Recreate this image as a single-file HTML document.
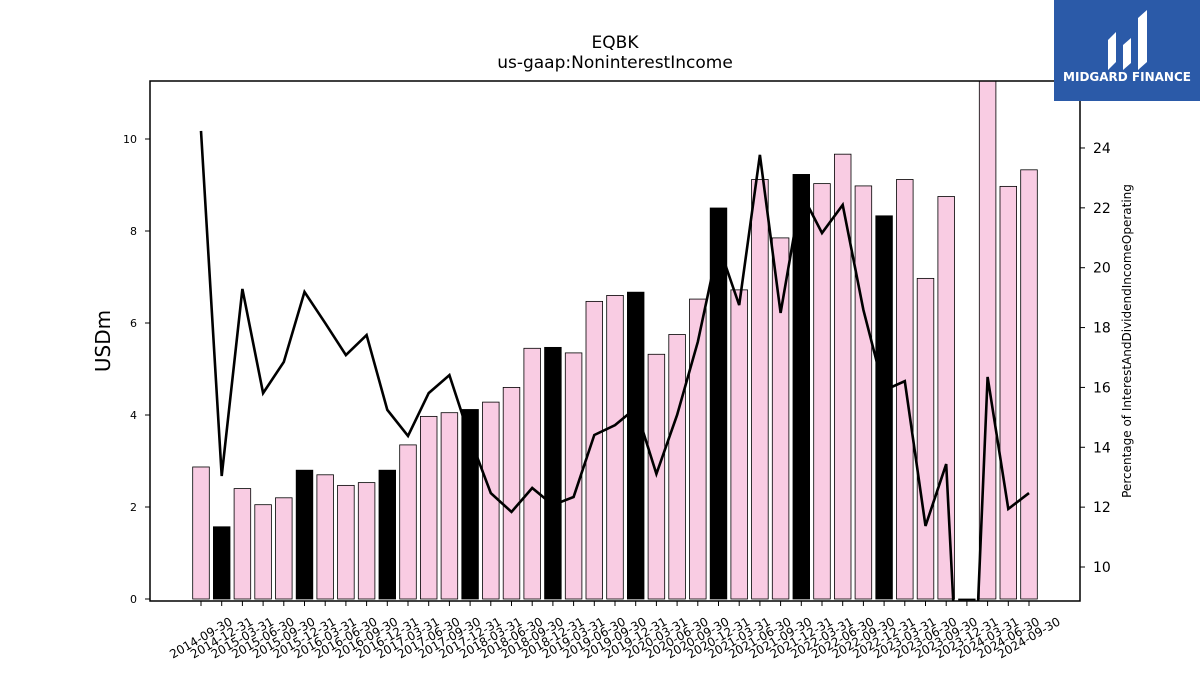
<!DOCTYPE html>
<html><head><meta charset="utf-8"><style>
body{margin:0;background:#fff;font-family:"Liberation Sans",sans-serif;overflow:hidden;}
svg{display:block;}
svg text{font-family:"DejaVu Sans","Liberation Sans",sans-serif;}
</style></head><body>
<svg width="1200" height="675" viewBox="0 0 1200 675">
<defs><clipPath id="pc"><rect x="150" y="81" width="930" height="520"/></clipPath></defs>
<text x="615" y="48" text-anchor="middle" font-size="17">EQBK</text>
<text x="615" y="68" text-anchor="middle" font-size="17">us-gaap:NoninterestIncome</text>
<g id="bars" clip-path="url(#pc)"></g>
<g id="line" clip-path="url(#pc)"></g>
<rect x="150" y="81" width="930" height="520" fill="none" stroke="#000" stroke-width="1.5"/>
<g id="lt"></g>
<g id="rt"></g>
<g id="xt"></g>
<text transform="translate(110,341) rotate(-90)" text-anchor="middle" font-size="20">USDm</text>
<text transform="translate(1131,341) rotate(-90)" text-anchor="middle" font-size="12">Percentage of InterestAndDividendIncomeOperating</text>
<g>
<rect x="1054" y="0" width="146" height="101" fill="#2b5aa8"/>
<path d="M1108 70 L1108 40 L1116 32 L1116 62 Z M1123 70 L1123 45 L1131 38 L1131 63 Z M1138 70 L1138 18 L1147 10 L1147 62 Z" fill="#fff"/>
<text x="1127" y="81" text-anchor="middle" font-size="12" font-weight="bold" fill="#fff">MIDGARD FINANCE</text>
</g>
</svg>
<script>
const dates=["2014-09-30","2014-12-31","2015-03-31","2015-06-30","2015-09-30","2015-12-31","2016-03-31","2016-06-30","2016-09-30","2016-12-31","2017-03-31","2017-06-30","2017-09-30","2017-12-31","2018-03-31","2018-06-30","2018-09-30","2018-12-31","2019-03-31","2019-06-30","2019-09-30","2019-12-31","2020-03-31","2020-06-30","2020-09-30","2020-12-31","2021-03-31","2021-06-30","2021-09-30","2021-12-31","2022-03-31","2022-06-30","2022-09-30","2022-12-31","2023-03-31","2023-06-30","2023-09-30","2023-12-31","2024-03-31","2024-06-30","2024-09-30"];
const income=[2.87,1.57,2.4,2.05,2.2,2.8,2.7,2.47,2.53,2.8,3.35,3.97,4.05,4.12,4.28,4.6,5.45,5.47,5.35,6.47,6.6,6.67,5.32,5.75,6.52,8.5,6.72,9.12,7.85,9.23,9.03,9.67,8.98,8.33,9.12,6.97,8.75,0,11.3,8.97,9.33];
const pct=[24.57,13.04,19.29,15.81,16.85,19.19,18.15,17.08,17.75,15.25,14.38,15.81,16.41,14.3,12.47,11.84,12.64,12.07,12.34,14.41,14.74,15.31,13.11,15.08,17.52,20.76,18.75,23.77,18.49,22.5,21.16,22.1,18.59,15.9,16.21,11.37,13.44,0,16.35,11.94,12.47];
const leftTicks=[0,2,4,6,8,10];
const rightTicks=[10,12,14,16,18,20,22,24];
const NS="http://www.w3.org/2000/svg";
const xS=i=>201+i*(1029-201)/(dates.length-1);
const yL=v=>599-v*46;
const yR=v=>567-(v-10)*29.93;
function mk(t,a,p){const e=document.createElementNS(NS,t);for(const k in a)e.setAttribute(k,a[k]);p.appendChild(e);return e;}
const bars=document.getElementById('bars');
income.forEach((v,i)=>{const q=dates[i].slice(5);const blk=q==="12-31";
const r=mk('rect',{x:xS(i)-8.3,y:yL(v),width:16.6,height:Math.max(yL(0)-yL(v),1),fill:blk?'#000':'#f9cce3',stroke:'#000','stroke-width':0.8},bars);

});
const lg=document.getElementById('line');
const pl=mk('polyline',{points:pct.map((v,i)=>xS(i)+','+yR(v)).join(' '),fill:'none',stroke:'#000','stroke-width':2.6},lg);


const lt=document.getElementById('lt');
leftTicks.forEach(v=>{mk('line',{x1:145,x2:150,y1:yL(v),y2:yL(v),stroke:'#000'},lt);
const t=mk('text',{x:137,y:yL(v)+4,'text-anchor':'end','font-size':11},lt);t.textContent=v;

});
const rt=document.getElementById('rt');
rightTicks.forEach(v=>{mk('line',{x1:1080,x2:1085,y1:yR(v),y2:yR(v),stroke:'#000'},rt);
const t=mk('text',{x:1093,y:yR(v)+5,'font-size':14},rt);t.textContent=v;

});
const xt=document.getElementById('xt');
dates.forEach((d,i)=>{const x=xS(i);mk('line',{x1:x,x2:x,y1:601,y2:606,stroke:'#000'},xt);
const cy=638;
const t=mk('text',{x:x,y:cy+4,'text-anchor':'middle','font-size':12,transform:`rotate(-30 ${x} ${cy})`},xt);t.textContent=d;

});
</script>
</body></html>
